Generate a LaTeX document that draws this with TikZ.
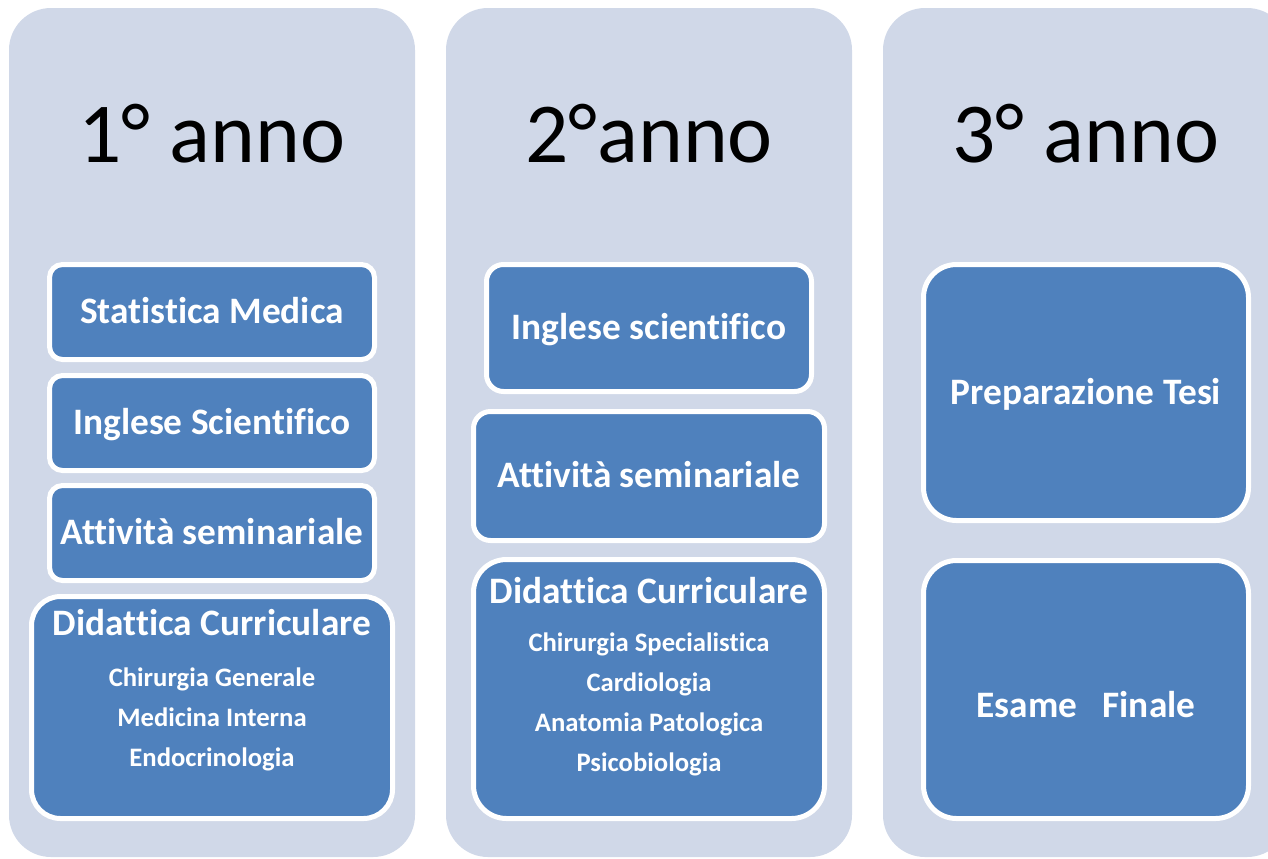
\documentclass[tikz,border=0pt]{standalone}
\usepackage{fontspec}
\setmainfont{Carlito}[Ligatures=NoCommon]
\usepackage{xcolor}
\definecolor{panelgrey}{HTML}{D0D8E8}
\definecolor{boxblue}{HTML}{4F81BD}

\tikzset{
  panel/.style={fill=panelgrey, rounded corners=31.5pt, inner sep=0pt},
  boxsize/.style 2 args={minimum width=#1*0.75pt, minimum height=#2*0.75pt},
  box/.style={fill=boxblue, draw=white, line width=3.75pt, inner sep=0pt,
    text=white, font=\bfseries\fontsize{28}{33}\selectfont,
    text height=17.8pt, text depth=0pt},
  boxlabel/.style={inner sep=0pt, text=white, font=\bfseries\fontsize{28}{33}\selectfont,
    text height=17.8pt, text depth=0pt},
  yeartitle/.style={anchor=base, inner sep=0pt, font=\fontsize{64}{76}\selectfont},
  head/.style={anchor=base, inner sep=0pt, text=white, font=\bfseries\fontsize{28}{33}\selectfont},
  subject/.style={anchor=base, inner sep=0pt, text=white, font=\bfseries\fontsize{20}{24}\selectfont},
}

\begin{document}
\begin{tikzpicture}[x=0.75pt,y=0.75pt,yscale=-1,xscale=1]
\useasboundingbox (0,0) rectangle (1268,858);
\clip (0,0) rectangle (1268,858);

% Panels
\node[panel, boxsize={406}{849}] (p1) at (212,432.5) {};
\node[panel, boxsize={406}{849}] (p2) at (649,432.5) {};
\node[panel, boxsize={406}{849}] (p3) at (1086,432.5) {};

% Year titles
\node[yeartitle] (t1) at (212,162) {1° anno};
\node[yeartitle] (t2) at (649,162) {2°anno};
\node[yeartitle] (t3) at (1086,162) {3° anno};

% First year
\node[box, boxsize={325}{95}, rounded corners=9.75pt] (sm1) at (212,312) {Statistica Medica};
\node[box, boxsize={325}{95}, rounded corners=9.75pt] (is1) at (212,423) {Inglese Scientifico};
\node[box, boxsize={325}{95}, rounded corners=9.75pt] (as1) at (212,533) {Attività seminariale};
\node[box, boxsize={361}{222}, rounded corners=21.75pt] (dc1) at (212,707.5) {};
\node[head] (dc1h) at (212,635) {Didattica Curriculare};
\foreach \subj [count=\i] in {Chirurgia Generale, Medicina Interna, Endocrinologia}
  \node[subject] (dc1s\i) at (212,646+40*\i) {\subj};

% Second year
\node[box, boxsize={325}{127}, rounded corners=12.75pt] (is2) at (649,328) {Inglese scientifico};
\node[box, boxsize={351}{129}, rounded corners=12.75pt] (as2) at (649,476) {Attività seminariale};
\node[box, boxsize={351}{259}, rounded corners=24.75pt] (dc2) at (649,689) {};
\node[head] (dc2h) at (649,603) {Didattica Curriculare};
\foreach \subj [count=\i] in {Chirurgia Specialistica, Cardiologia, Anatomia Patologica, Psicobiologia}
  \node[subject] (dc2s\i) at (649,611+40*\i) {\subj};

% Third year
\node[box, boxsize={325}{256}, rounded corners=24.75pt] (pt3) at (1086,392.5) {Preparazione Tesi};
\node[box, boxsize={325}{258}, rounded corners=24.75pt] (ef3) at (1086,689.5) {};
\node[boxlabel] (ef3l) at (1086,706) {Esame\ \ \ Finale};
\end{tikzpicture}
\end{document}
